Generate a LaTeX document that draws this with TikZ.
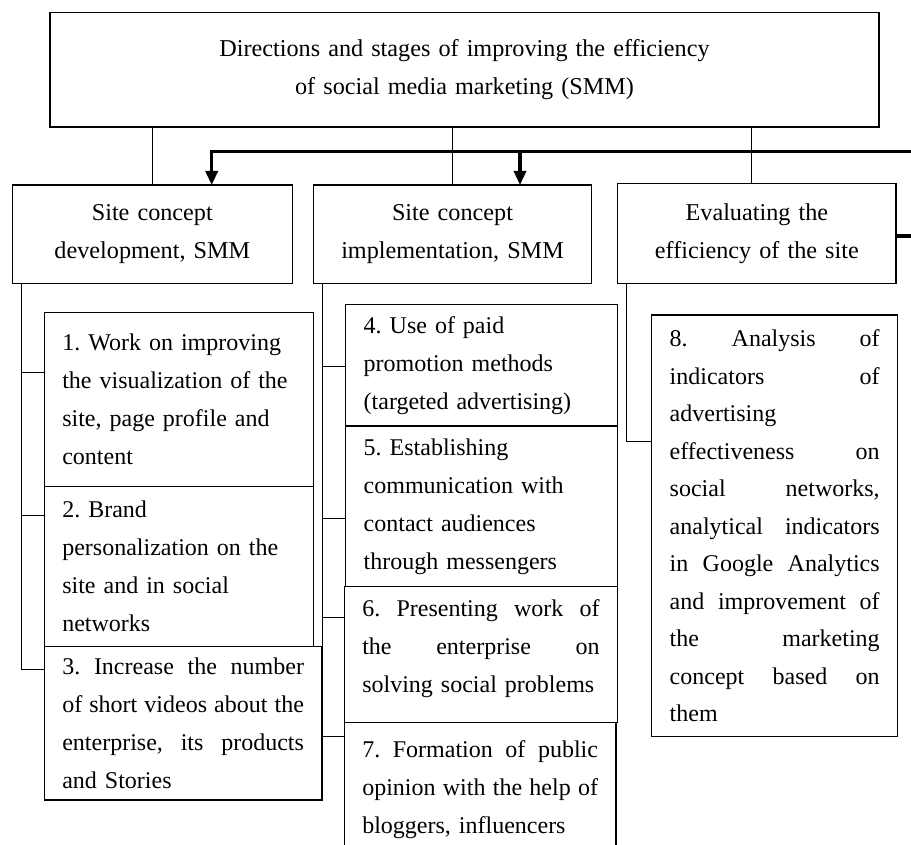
\documentclass[tikz,border=0pt]{standalone}
\usepackage{fontspec}
\setmainfont{Liberation Serif}
\frenchspacing
\usetikzlibrary{arrows.meta}
\begin{document}
\begin{tikzpicture}[x=1pt, y=-1pt,
  box/.style = {draw, line width=1.1pt, anchor=north west, inner xsep=18pt, inner ysep=0pt, outer sep=0pt, align=left, font=\fontsize{24}{38}\selectfont},
  headbox/.style = {box, align=center, font=\fontsize{24.2}{38}\selectfont},
  wire/.style = {line width=1pt},
  feedback/.style = {line width=3.4pt, -{Triangle[length=14pt, width=12pt]}}]
\useasboundingbox (0,0) rectangle (911,845);
\clip (0,0) rectangle (911,845);
% stages
\node (top) at (50,12.3) [headbox, text width=793pt, minimum height=114.7pt] {Directions and stages of improving the efficiency\\of social media marketing (SMM)};
\node (dev) at (12.3,185) [headbox, text width=244pt, minimum height=98.3pt] {Site concept\\development, SMM};
\node (impl) at (313.3,185) [headbox, text width=242.4pt, minimum height=98.3pt] {Site concept\\implementation, SMM};
\node (eval) at (617.7,183.3) [headbox, text width=242.3pt, minimum height=100pt] {Evaluating the\\efficiency of the site};
% directions
\node (s1) at (44.3,312.3) [box, text width=233pt, minimum height=174.4pt] {1. Work on improving\\the visualization of the\\site, page profile and\\content};
\node (s2) at (44.3,486.7) [box, text width=233pt, minimum height=160pt] {2. Brand\\personalization on the\\site and in social\\networks};
\node (s3) at (44.3,646.7) [box, text width=241.7pt, minimum height=153.3pt] {3.\hfill Increase\hfill the\hfill number\\of\hfill short\hfill videos\hfill about\hfill the\\enterprise,\hfill its\hfill products\\and Stories};
\node (s4) at (345.7,304.3) [box, text width=236pt, minimum height=121.7pt] {4. Use of paid\\promotion methods\\(targeted advertising)};
\node (s5) at (345.7,426) [box, text width=236pt, minimum height=160.7pt] {5. Establishing\\communication with\\contact audiences\\through messengers};
\node (s6) at (344.3,586.7) [box, text width=237.4pt, minimum height=136pt] {6.\hfill Presenting\hfill work\hfill of\\the\hfill enterprise\hfill on\\solving social problems\\[-20pt]\mbox{}};
\node (s7) at (344.3,722.7) [box, text width=235.7pt, minimum height=134.3pt] {7.\hfill Formation\hfill of\hfill public\\opinion\hfill with\hfill the\hfill help\hfill of\\bloggers, influencers};
\node (s8) at (651.7,315) [box, text width=210pt, minimum height=421.7pt, font=\fontsize{24}{37.5}\selectfont] {8.\hfill Analysis\hfill of\\indicators\hfill of\\advertising\\effectiveness\hfill on\\social\hfill networks,\\analytical\hfill indicators\\in\hfill Google\hfill Analytics\\and\hfill improvement\hfill of\\the\hfill marketing\\concept\hfill based\hfill on\\them};
% from the top box
\coordinate (evalin) at (751.7,0);
\draw[wire] (top.south -| dev.north) -- (dev.north);
\draw[wire] (top.south -| impl.north) -- (impl.north);
\draw[wire] (evalin |- top.south) -- (evalin |- eval.north);
% side links
\draw[wire] ([yshift=-60.4pt]s1.north west) -| ([xshift=8.7pt]dev.south west);
\draw[wire] ([yshift=-28.3pt]s2.north west) -| ([xshift=8.7pt]dev.south west);
\draw[wire] ([yshift=-22.6pt]s3.north west) -| ([xshift=8.7pt]dev.south west);
\draw[wire] ([yshift=-61.7pt]s4.north west) -| ([xshift=9.4pt]impl.south west);
\draw[wire] ([yshift=-92.3pt]s5.north west) -| ([xshift=9.4pt]impl.south west);
\draw[wire] ([yshift=-31pt]s6.north west) -| ([xshift=9.4pt]impl.south west);
\draw[wire] ([yshift=-13.3pt]s7.north west) -| ([xshift=9.4pt]impl.south west);
\draw[wire] ([yshift=-126.7pt]s8.north west) -| ([xshift=9pt]eval.south west);
% feedback
\coordinate (fbin1) at (211.7,0);
\coordinate (fbin2) at (520,0);
\coordinate (fbturn) at (935,151.7);
\draw[feedback] ([yshift=-2.7pt]eval.east) -| (fbturn) -| (fbin1 |- dev.north);
\draw[feedback] (fbin2 |- fbturn) -- (fbin2 |- impl.north);
\end{tikzpicture}
\end{document}
